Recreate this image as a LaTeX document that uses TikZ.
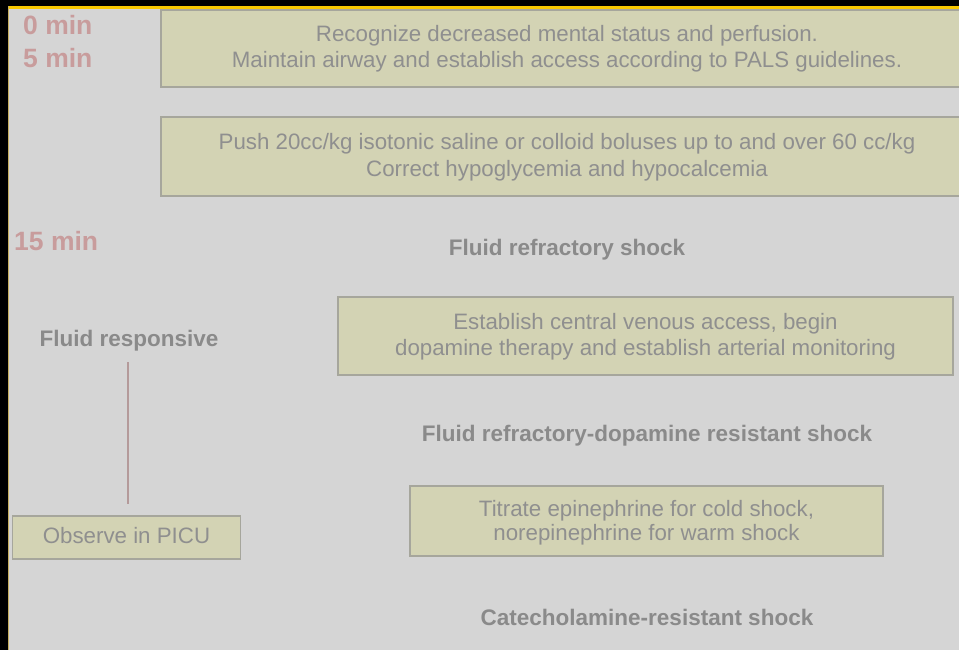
\documentclass[tikz,border=0pt]{standalone}
\usepackage{fontspec}
\setmainfont{Liberation Sans}
\definecolor{bg}{HTML}{D5D5D5}
\definecolor{boxfill}{HTML}{D3D3B4}
\definecolor{boxline}{HTML}{A6A69C}
\definecolor{txtgray}{HTML}{8F8F8F}
\definecolor{lblgray}{HTML}{8A8A8A}
\definecolor{redtxt}{HTML}{C89C9C}
\definecolor{linkred}{HTML}{B49A9A}
\definecolor{topyellow}{HTML}{F8C800}
\definecolor{leftyellow}{HTML}{C8B060}
\begin{document}
\begin{tikzpicture}[x=1pt,y=-1pt,
  stepbox/.style={draw=boxline,line width=1.5pt,fill=boxfill,rectangle,inner sep=0pt},
  boxtxt/.style={anchor=base,inner sep=0pt,text=txtgray,font=\fontsize{22.3}{26}\selectfont},
  lbl/.style={anchor=base,inner sep=0pt,text=lblgray,font=\fontsize{22.5}{26}\selectfont\bfseries},
  tlbl/.style={anchor=base west,inner sep=0pt,text=redtxt,font=\fontsize{26.5}{30}\selectfont\bfseries},
  link/.style={draw=linkred,line width=1.2pt}]
\useasboundingbox (0,0) rectangle (959,650);
\fill[bg] (0,0) rectangle (959,650);
% frame
\fill[black] (0,0) rectangle (959,6);
\fill[black] (0,0) rectangle (7.5,650);
\fill[topyellow] (7.5,6) rectangle (959,9);
\fill[leftyellow] (7.5,6) rectangle (9,650);
% time labels
\node[tlbl] (m0) at (23,35) {0 min};
\node[tlbl] (m5) at (23,68) {5 min};
\node[tlbl] (m15) at (14,250) {15 min};
% box 1
\node[stepbox,minimum width=812pt,minimum height=77pt] (b1) at (567,48.5) {};
\node[boxtxt] (b1a) at (567,42) {Recognize decreased mental status and perfusion.};
\node[boxtxt] (b1b) at (567,68) {Maintain airway and establish access according to PALS guidelines.};
% box 2
\node[stepbox,minimum width=812pt,minimum height=79pt] (b2) at (567,156.5) {};
\node[boxtxt] (b2a) at (567,150) {Push 20cc/kg isotonic saline or colloid boluses up to and over 60 cc/kg};
\node[boxtxt] (b2b) at (567,176) {Correct hypoglycemia and hypocalcemia};
% fluid refractory
\node[lbl] (fr) at (567,255) {Fluid refractory shock};
% box 3
\node[stepbox,minimum width=615pt,minimum height=78pt] (b3) at (645.5,336) {};
\node[boxtxt] (b3a) at (645.5,329) {Establish central venous access, begin};
\node[boxtxt] (b3b) at (645.5,355) {dopamine therapy and establish arterial monitoring};
% fluid responsive
\node[lbl] (fresp) at (129,346) {Fluid responsive};
\node[stepbox,minimum width=228pt,minimum height=43pt] (obs) at (126.5,537.5) {};
\node[boxtxt] (obst) at (126.5,543) {Observe in PICU};
\coordinate (ltop) at (128,362);
\coordinate (lbot) at (128,504);
\draw[link] (ltop) -- (lbot);
% dopamine resistant
\node[lbl] (fdr) at (647,441) {Fluid refractory-dopamine resistant shock};
% box 4
\node[stepbox,minimum width=473pt,minimum height=70pt] (b4) at (646.5,521) {};
\node[boxtxt] (b4a) at (646.5,516) {Titrate epinephrine for cold shock,};
\node[boxtxt] (b4b) at (646.5,540) {norepinephrine for warm shock};
% catecholamine
\node[lbl] (cat) at (647,625) {Catecholamine-resistant shock};
\end{tikzpicture}
\end{document}
